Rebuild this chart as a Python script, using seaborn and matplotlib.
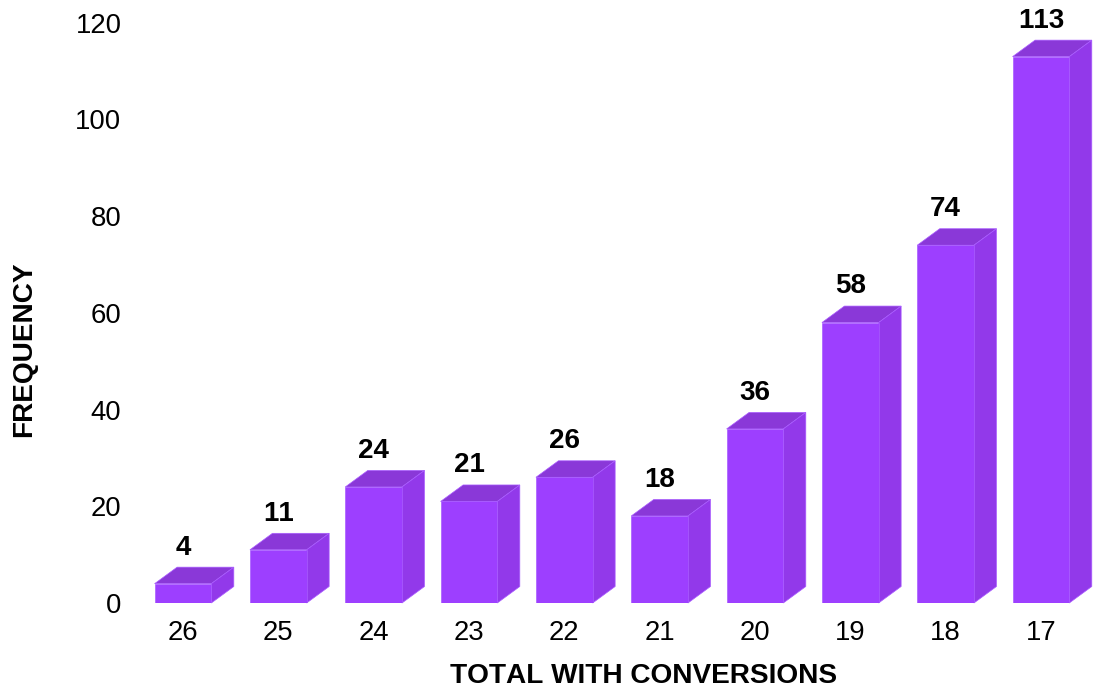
import matplotlib
matplotlib.use('Agg')
import matplotlib.pyplot as plt
import pandas as pd
import seaborn as sns
from matplotlib.patches import Polygon

# values
conversions = ['26', '25', '24', '23', '22', '21', '20', '19', '18', '17']
frequency = [4, 11, 24, 21, 26, 18, 36, 58, 74, 113]
yticks = [0, 20, 40, 60, 80, 100, 120]

FRONT = '#9D3FFF'
TOP = '#8A38D8'
SIDE = '#9239EA'
EDGE = '#A95CFF'

df = pd.DataFrame({'conversions': conversions, 'frequency': frequency})

sns.set_style('white')
plt.rcParams['font.family'] = ['Liberation Sans', 'DejaVu Sans']
plt.rcParams['text.kerning_factor'] = 12  # keeps "11" from closing up

W, H = 1095, 692
fig = plt.figure(figsize=(W / 100, H / 100), dpi=100)
ax = fig.add_axes([135.3 / W, 1 - 603 / H, 953.3 / W, 603 / H])

sns.barplot(data=df, x='conversions', y='frequency', color=FRONT, saturation=1,
            width=0.595, ax=ax, zorder=3)

ax.set_xlim(-0.5, 9.5)
ax.set_ylim(0, 603 / 4.835)

# depth of the fake 3d boxes, in data units
dx = 22.5 / 95.33
dy = 16.5 / 4.835

for p in ax.patches[:len(frequency)]:
    x0 = p.get_x()
    x1 = x0 + p.get_width()
    h = p.get_height()
    p.set_edgecolor(EDGE)
    p.set_linewidth(0.5)
    top = Polygon([(x0, h), (x1, h), (x1 + dx, h + dy), (x0 + dx, h + dy)],
                  closed=True, fc=TOP, ec=EDGE, lw=0.5, zorder=2, clip_on=False)
    side = Polygon([(x1, 0), (x1 + dx, dy), (x1 + dx, h + dy), (x1, h)],
                   closed=True, fc=SIDE, ec=EDGE, lw=0.5, zorder=2, clip_on=False)
    ax.add_patch(top)
    ax.add_patch(side)
    ax.annotate(f'{h:.0f}', (x0 + p.get_width() / 2, h), xytext=(0, 26),
                textcoords='offset points', ha='center', va='center',
                fontsize=20, fontweight='bold', color='black')

ax.set_yticks(yticks)
ax.tick_params(axis='both', length=0, labelsize=19.8, labelcolor='black')
ax.tick_params(axis='x', pad=12.5)
ax.tick_params(axis='y', pad=10)
sns.despine(ax=ax, left=True, bottom=True, top=True, right=True)
ax.set_xlabel('')
ax.set_ylabel('')

fig.text(643.5 / W, 1 - 676 / H, 'TOTAL WITH CONVERSIONS', ha='center', va='center',
         fontsize=20.2, fontweight='bold', color='black')
fig.text(24 / W, 1 - 349 / H, 'FREQUENCY', ha='center', va='center', rotation=90,
         fontsize=20.2, fontweight='bold', color='black')

fig.savefig('out.png', dpi=100)
plt.close(fig)
